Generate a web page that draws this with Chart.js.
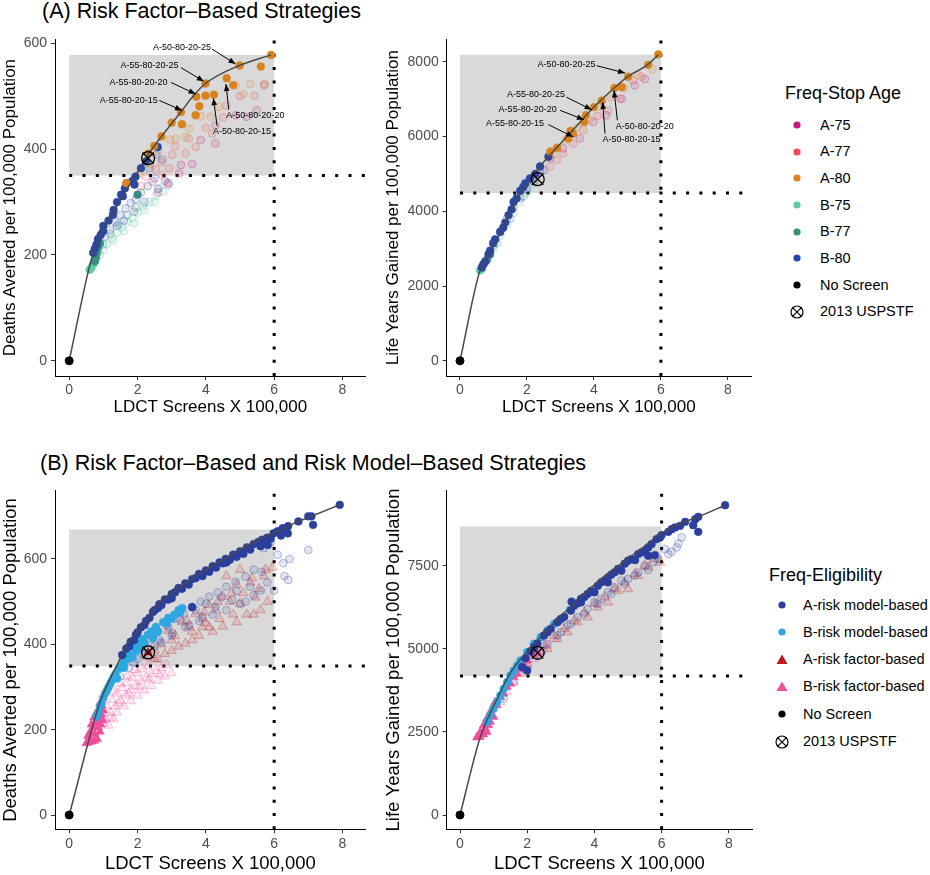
<!DOCTYPE html>
<html lang="en">
<head>
<meta charset="UTF-8">
<title>LDCT screening strategies</title>
<script src="https://cdn.jsdelivr.net/npm/chart.js"></script>
<style>
  body { margin: 0; background: #fff; font-family: "Liberation Sans", Arial, sans-serif; }
  #page { position: relative; width: 930px; height: 875px; overflow: hidden; }
  #page canvas { position: absolute; }
  .head { position: absolute; font-size: 21.5px; line-height: 1; white-space: nowrap; color: #000; }
  .legend .ttl { position: absolute; white-space: nowrap; font-size: 18px; line-height: 1; color: #000; }
  .legend .row { position: absolute; white-space: nowrap; font-size: 14.5px; line-height: 1; color: #000; }
  .legend svg { position: absolute; }
</style>
</head>
<body>
<div id="page">
  <div class="head" style="left:42px;top:1px">(A) Risk Factor–Based Strategies</div>
  <div class="head" style="left:40px;top:453px">(B) Risk Factor–Based and Risk Model–Based Strategies</div>
  <canvas id="aDeaths"></canvas>
  <canvas id="aLY"></canvas>
  <canvas id="bDeaths"></canvas>
  <canvas id="bLY"></canvas>
  <div id="legendA" class="legend"></div>
  <div id="legendB" class="legend"></div>
</div>

<script>
Chart.defaults.font.family = '"Liberation Sans", Arial, sans-serif';

const xTickValues = [0, 2, 4, 6, 8];
const xTitle = 'LDCT Screens X 100,000';

// colours
const colA75 = '#C4177F', colA77 = '#EF4A4F', colA80 = '#D8831F';
const colB75 = '#5DCAA0', colB77 = '#3B8B85', colB80 = '#2A47A6';
const colAModel = '#2A3F9D', colBModel = '#2CA7E0';
const colAFactor = '#C0171E', colBFactor = '#EF4E98';

// ---------- (A) deaths averted ----------
const aDeathsTicks = [0, 200, 400, 600];
const aDeathsFrontier = [[0,0],[0.58,175],[0.7,203],[0.84,226],[0.99,251],[1.28,280],[1.57,311],[1.91,347],[2.1,366],[2.32,390],[2.7,424],[3.27,470],[3.6,498],[3.99,524],[4.98,558],[5.91,578]];
const aDeathsA80 = [[5.91,578],[5.61,556],[4.99,558],[4.61,534],[4.80,521],[3.99,524],[3.99,501],[4.24,503],[3.72,499],[3.81,481],[3.70,464],[3.27,470],[3.30,447],[3.00,450],[2.70,424],[2.49,406],[2.32,392],[1.67,336]];
const aDeathsA80Faded = [[5.72,523],[5.3,523],[5.11,504],[4.87,520],[4.38,480],[4.14,461],[3.85,462],[3.51,439],[3.41,423],[3.12,420],[2.95,418],[2.6,396],[2.35,372],[2.05,353]];
const aDeathsA75Faded = [[5.71,521],[5.49,473],[5.2,461],[4.88,464],[4.28,445],[4.28,411],[3.85,417],[3.6,372],[3.22,354],[2.88,336],[2.44,339],[2.6,318],[2.9,333],[3.27,370]];
const aDeathsA77Faded = [[5.42,501],[5.0,500],[4.6,482],[4.5,460],[4.19,429],[4.0,440],[3.7,404],[3.41,392],[3.5,420],[3.1,405],[3.02,389],[2.93,364],[2.73,351],[2.53,362],[2.7,375],[2.24,348],[2.1,330]];
const aDeathsB80 = [[2.59,404],[2.25,377],[2.1,364],[1.94,348],[1.91,333],[1.85,340],[1.63,326],[1.52,314],[1.57,311],[1.4,300],[1.3,285],[1.28,276],[1.15,265],[1.0,255],[0.99,245],[0.92,238],[0.84,230],[0.8,220],[0.75,212],[0.7,204]];
const aDeathsB80Faded = [[2.55,389],[2.73,380],[2.35,364],[2.5,345],[2.3,330],[2.1,318],[1.95,305],[1.8,298],[1.65,288],[1.5,275],[1.35,262],[1.2,248],[1.05,235],[2.8,340],[2.6,325],[2.2,300],[1.9,282],[1.6,265],[1.4,255]];
const aDeathsB77 = [[2.0,314],[0.9,222],[0.85,215],[0.8,205],[0.78,195],[0.75,188]];
const aDeathsB77Faded = [[1.95,290],[1.7,275],[1.45,258],[1.2,240],[1.0,220],[0.85,205]];
const aDeathsB75 = [[0.6,172],[0.65,176],[0.7,183]];
const aDeathsB75Faded = [[2.93,336],[2.75,320],[2.64,326],[2.55,312],[2.35,300],[2.15,292],[2.0,280],[1.85,270],[1.7,262],[1.55,252],[1.4,242],[1.25,232],[1.1,220],[1.0,210],[0.9,200],[0.8,190],[0.7,182],[2.5,300],[2.2,285],[1.9,260],[1.6,245],[1.3,228]];
const aDeathsUspstf = [[2.31,383]];
const aDeathsNotes = [
  {text: 'A-50-80-20-25', tx: 3.30, ty: 592, x1: 4.18, y1: 589, x2: 4.87, y2: 561},
  {text: 'A-55-80-20-25', tx: 2.35, ty: 558, x1: 3.27, y1: 554, x2: 3.94, y2: 528},
  {text: 'A-55-80-20-20', tx: 2.03, ty: 526, x1: 2.98, y1: 526, x2: 3.70, y2: 504},
  {text: 'A-55-80-20-15', tx: 1.74, ty: 492, x1: 2.64, y1: 492, x2: 3.30, y2: 473},
  {text: 'A-50-80-20-20', tx: 5.45, ty: 464, x1: 4.67, y1: 475, x2: 4.59, y2: 523},
  {text: 'A-50-80-20-15', tx: 5.06, ty: 434, x1: 4.33, y1: 444, x2: 4.22, y2: 496}
];

// ---------- (A) life years gained ----------
const aLYTicks = [0, 2000, 4000, 6000, 8000];
const aLYFrontier = [[0,0],[0.6,2430],[0.9,2900],[1.29,3560],[1.54,4050],[1.89,4600],[2.3,5100],[2.64,5460],[3.3,6100],[4.0,6790],[4.63,7320],[5.02,7610],[5.62,7930],[5.92,8190]];
const aLYA80 = [[5.92,8200],[5.62,7920],[5.02,7600],[4.83,7320],[4.61,7300],[4.23,6960],[4.0,6790],[3.76,6570],[3.71,6390],[3.38,6080],[3.23,5950],[3.3,6150],[2.9,5700],[2.7,5600]];
const aLYA80Faded = [[5.75,7800],[5.3,7650],[4.9,7300],[4.5,7050],[4.15,6800],[3.85,6450],[3.5,6250],[3.15,5900],[2.8,5550]];
const aLYA75Faded = [[5.52,7540],[5.22,7370],[4.83,7010],[4.36,6570],[3.98,6390],[3.58,5950],[3.08,5680],[2.69,5420],[2.39,5060]];
const aLYA77Faded = [[5.42,7600],[5.17,7500],[4.78,7010],[4.43,6700],[4.1,6550],[3.68,6170],[3.38,5810],[3.08,5550],[2.89,5370],[2.69,5200],[2.2,4900]];
const aLYB80 = [[2.64,5460],[2.39,5200],[2.25,5000],[2.09,4880],[1.95,4750],[1.89,4650],[1.8,4550],[1.69,4350],[1.6,4250],[1.54,4050],[1.45,3900],[1.35,3700],[1.29,3560],[1.2,3450],[1.05,3250],[0.99,3150],[0.9,2950],[0.85,2850],[0.75,2650],[0.7,2585],[0.65,2500]];
const aLYB80Faded = [[2.5,5100],[2.2,4800],[2.0,4600],[1.8,4350],[1.6,4100],[1.4,3800],[1.2,3450],[1.0,3100]];
const aLYB77 = [[0.8,2700],[0.9,2850]];
const aLYB77Faded = [[1.9,4400],[1.5,3800],[1.1,3150],[0.8,2700]];
const aLYB75 = [[0.6,2420],[0.65,2460]];
const aLYB75Faded = [[2.2,4750],[2.0,4500],[1.8,4250],[1.6,3950],[1.4,3650],[1.2,3350],[1.0,3000],[0.85,2750],[0.7,2550]];
const aLYUspstf = [[2.32,4860]];
const aLYNotes = [
  {text: 'A-50-80-20-25', tx: 3.18, ty: 7940, x1: 4.08, y1: 7896, x2: 4.93, y2: 7700},
  {text: 'A-55-80-20-25', tx: 2.27, ty: 7126, x1: 3.18, y1: 7054, x2: 3.93, y2: 6717},
  {text: 'A-55-80-20-20', tx: 2.02, ty: 6728, x1: 2.99, y1: 6701, x2: 3.70, y2: 6452},
  {text: 'A-55-80-20-15', tx: 1.64, ty: 6345, x1: 2.64, y1: 6319, x2: 3.38, y2: 5992},
  {text: 'A-50-80-20-20', tx: 5.52, ty: 6258, x1: 4.70, y1: 6436, x2: 4.60, y2: 7232},
  {text: 'A-50-80-20-15', tx: 5.12, ty: 5931, x1: 4.33, y1: 6080, x2: 4.26, y2: 6922}
];

// ---------- (B) deaths averted ----------
const bDeathsTicks = [0, 200, 400, 600];
const bDeathsFrontier = [[0,0],[0.89,262],[1.18,316],[1.43,356],[1.67,395],[2.25,457],[2.64,496],[3.6,555],[4.58,602],[5.54,645],[5.98,660],[6.71,688],[7.09,700],[7.92,727]];
const bDeathsAModel = [[7.92,727],[7.09,700],[7.0,700],[7.14,680],[6.71,688],[6.41,677],[6.4,660],[6.25,672],[6.1,665],[5.98,660],[5.81,633],[5.8,650],[5.65,645],[5.54,640],[5.4,635],[5.2,627],[5.0,618],[4.8,610],[4.58,600],[4.4,592],[4.2,583],[4.0,573],[3.8,565],[3.6,553],[3.6,487],[3.4,543],[3.2,532],[3.0,518],[2.8,505],[2.64,494],[2.45,476],[2.25,455],[2.1,440],[1.95,422],[1.8,406],[1.67,390],[1.55,375],[4.9,605],[4.3,580],[3.7,555],[3.1,522],[2.5,480],[2.0,428],
  [5.3,622],[5.1,612],[4.7,598],[4.5,590],[4.1,570],[3.9,560],[3.5,540],[3.3,530],[2.9,505],[2.7,492],[2.35,462],[2.2,445],[1.9,410],[1.75,395],[5.6,630],[5.9,648],[6.2,655],[3.0,508],[2.6,485],[4.6,592],[5.75,640]];
const bDeathsAModelFaded = [[7.0,621],[6.41,551],[6.27,590],[6.45,600],[6.0,526],[5.64,570],[5.4,575],[5.61,526],[5.16,559],[4.87,547],[4.6,535],[4.35,522],[4.1,512],[3.85,500],[3.6,488],[3.35,472],[3.1,460],[2.85,445],[2.6,430],[2.4,412],[2.2,400],[2.0,385],[1.8,368],[1.6,350],[5.16,500],[4.77,504],[4.28,488],[3.9,465],[3.51,445],[3.02,426],[2.64,410],[2.3,390],[2.0,365],[1.75,345],[1.5,325],[5.9,640],[5.7,625],[6.1,610],
  [5.4,515],[5.0,495],[4.6,480],[4.2,470],[3.8,455],[3.4,440],[3.0,420],[2.7,405],[2.5,395],[2.2,375],[1.9,358],[6.3,560],[5.8,545],[5.3,535],[4.9,525],[4.45,510],[4.0,495],[3.7,480],[3.25,458],[2.9,440],[2.45,418]];
const bDeathsBModel = [[3.31,485],[3.2,480],[3.07,469],[2.9,462],[2.75,452],[2.54,441],[2.4,430],[2.3,422],[2.15,412],[2.0,402],[1.9,392],[1.75,375],[1.6,360],[1.45,343],[1.3,323],[1.2,308],[1.1,292],[1.0,275],[0.9,255],[0.85,240],[0.8,230],[1.4,320],[1.6,345],[1.85,370],[2.1,390],[2.45,415],
  [1.15,300],[1.25,315],[1.35,330],[1.55,350],[1.7,365],[1.95,385],[2.2,402],[2.6,430],[2.85,450],[3.0,460],[3.25,475],[0.95,262],[1.05,285]];
const bDeathsAFactor = [[2.31,381]];
const bDeathsAFactorFaded = [[5.95,580],[5.7,560],[5.55,530],[5.3,545],[5.1,520],[4.9,540],[4.7,500],[4.5,512],[4.3,480],[4.1,492],[3.9,460],[3.7,472],[3.5,440],[3.3,452],[3.1,420],[2.9,432],[2.7,400],[2.5,387],[2.3,370],[5.6,480],[5.2,470],[4.9,452],[4.5,442],[4.2,430],[3.8,420],[3.4,402],[3.0,385],[2.6,366],[4.6,560],[5.0,575],[4.0,450],[3.6,430],
  [5.8,500],[5.4,470],[5.45,510],[5.0,495],[4.8,470],[4.4,460],[4.1,440],[3.9,440],[3.6,410],[3.2,395],[2.8,378],[2.5,365],[4.75,520],[4.35,500],[3.95,475],[3.45,455],[3.0,410],[5.35,555],[5.75,575]];
const bDeathsBFactor = [[0.5,168],[0.58,170],[0.66,172],[0.74,174],[0.82,178],[0.55,185],[0.62,195],[0.7,205],[0.78,215],[0.86,225],[0.94,235],[1.0,245],[0.95,258],[0.9,262],[0.65,212],[0.72,228],[0.8,240],[0.88,250],[0.85,205],[0.92,212],[0.98,222],[0.6,180],[0.75,190],[0.9,195]];
const bDeathsBFactorFaded = [[1.05,225],[1.2,240],[1.35,255],[1.5,268],[1.65,280],[1.8,292],[1.95,303],[2.1,313],[2.25,322],[2.4,330],[2.55,338],[2.7,345],[2.85,352],[1.1,255],[1.25,270],[1.4,285],[1.55,298],[1.7,310],[1.85,322],[2.0,333],[2.15,342],[2.3,350],[1.3,290],[1.5,308],[1.7,325],[1.9,340],[1.15,210],[1.3,225],
  [1.0,215],[1.2,228],[1.4,240],[1.6,255],[1.8,267],[2.0,280],[2.2,292],[2.4,303],[2.6,315],[2.8,325],[3.0,333],[1.45,262],[1.75,285],[2.05,300],[2.35,318],[2.65,330]];
const bDeathsUspstf = [[2.31,381]];

// ---------- (B) life years gained ----------
const bLYTicks = [0, 2500, 5000, 7500];
const bLYFrontier = [[0,0],[0.6,2330],[1.04,3360],[1.49,4260],[2.13,5060],[2.83,5810],[3.82,6770],[4.81,7570],[5.41,8020],[6.0,8470],[6.7,8820],[7.09,8970],[7.89,9320]];
const bLYAModel = [[7.89,9320],[7.09,8970],[7.0,8900],[7.09,8520],[6.94,8720],[6.7,8820],[6.4,8650],[6.2,8520],[6.0,8420],[5.85,8300],[5.8,7820],[5.7,8150],[5.5,7950],[5.3,7850],[5.21,7670],[5.1,7700],[4.9,7560],[4.7,7400],[4.5,7230],[4.3,7060],[4.1,6900],[3.9,6740],[3.7,6560],[3.5,6370],[3.32,6420],[3.3,6150],[3.1,5960],[2.9,5800],[2.7,5600],[2.5,5400],[2.3,5160],[2.1,4930],[1.95,4720],[1.85,4450],[5.6,7800],[4.8,7350],[4.4,7000],[4.0,6700],[3.6,6400],[2.0,4350],
  [5.95,8350],[5.6,8050],[5.4,7900],[5.0,7650],[4.6,7300],[4.2,7000],[3.8,6650],[3.4,6300],[3.0,5900],[2.6,5500],[2.2,5050],[6.3,8600],[6.55,8700],[4.4,7150],[3.6,6500]];
const bLYAModelFaded = [[6.5,8170],[6.3,7920],[6.6,8350],[6.45,8050],[6.1,8000],[5.6,7370],[5.75,7600],[5.5,7500],[5.3,7300],[5.0,7100],[4.8,7050],[4.6,6850],[4.4,6700],[4.2,6500],[4.0,6400],[3.8,6200],[3.5,5950],[3.2,5700],[3.0,5500],[2.6,5150],[2.45,4950],
  [6.2,7850],[5.9,7700],[5.2,7200],[4.9,6950],[4.5,6650],[4.1,6350],[3.7,6050],[3.3,5750],[2.9,5400],[2.3,4800],[1.9,4400],[1.6,4000],[1.3,3500]];
const bLYBModel = [[0.8,2800],[0.9,3000],[1.0,3200],[1.1,3400],[1.2,3600],[1.3,3800],[1.4,4000],[1.5,4200],[1.6,4350],[1.7,4500],[1.8,4650],[2.0,4900],[2.2,5150],[2.4,5350],[2.6,5550],[2.8,5750],[2.95,5850],[3.27,6170]];
const bLYAFactorFaded = [[5.8,7700],[5.5,7500],[5.2,7250],[4.9,7000],[4.6,6800],[4.3,6550],[4.0,6350],[3.7,6100],[3.4,5850],[3.1,5600],[2.8,5400],[2.5,5100],[2.2,4800],[1.9,4500],[5.0,6800],[4.4,6400],[3.8,5950],[3.2,5500],[2.6,5000],
  [5.6,7450],[5.3,7200],[4.7,6750],[4.1,6250],[3.5,5800],[2.9,5300],[2.3,4800],[2.0,4550],[5.95,7600]];
const bLYBFactor = [[0.5,2330],[0.6,2350],[0.7,2420],[0.8,2500],[0.6,2500],[0.7,2700],[0.8,2900],[0.9,3100],[1.0,3300],[1.05,3400],[0.9,2800],[1.0,2950],[0.75,2600],[0.85,2700],[0.95,3000],[1.2,3550],[1.4,3850],[1.6,4150],[1.8,4400],[2.0,4650],[2.2,4850],[2.31,4880],[1.1,3300],[1.3,3650],[1.5,3950],[1.7,4250],[1.9,4500]];
const bLYBFactorFaded = [[1.2,3400],[1.4,3700],[1.6,4000],[1.8,4250],[2.0,4500],[2.2,4700],[2.4,4900],[2.6,5100],[2.8,5300]];
const bLYUspstf = [[2.31,4880]];

const noScreen = [[0, 0]];

// legends
const stopAgeLabels = ['A-75', 'A-77', 'A-80', 'B-75', 'B-77', 'B-80', 'No Screen', '2013 USPSTF'];
const stopAgeColors = [colA75, colA77, colA80, colB75, colB77, colB80, '#000', null];
const eligLabels = ['A-risk model-based', 'B-risk model-based', 'A-risk factor-based', 'B-risk factor-based', 'No Screen', '2013 USPSTF'];
const eligColors = [colAModel, colBModel, colAFactor, colBFactor, '#000', null];
const eligShapes = ['dot', 'dot', 'tri', 'tri', 'dot', 'usp'];

function rgba(hex, a) {
  const n = parseInt(hex.slice(1), 16);
  return 'rgba(' + (n >> 16) + ',' + ((n >> 8) & 255) + ',' + (n & 255) + ',' + a + ')';
}
function pts(arr) { return arr.map(p => ({x: p[0], y: p[1]})); }

function solid(arr, col, r, style) {
  return {data: pts(arr), backgroundColor: col, borderColor: col, borderWidth: 0.5,
    pointRadius: r || 3.9, pointStyle: style || 'circle', order: 2, clip: false};
}
function faded(arr, col, r, style) {
  return {data: pts(arr), backgroundColor: rgba(col, 0.13), borderColor: rgba(col, 0.3), borderWidth: 1,
    pointRadius: r || 3.9, pointStyle: style || 'circle', order: 3, clip: false};
}
function frontier(arr) {
  return {data: pts(arr), showLine: true, borderColor: '#4a4a4a', borderWidth: 1.5, pointRadius: 0,
    cubicInterpolationMode: 'monotone', order: 1, clip: false};
}
function markers(uspstf) {
  return [
    {data: pts(noScreen), backgroundColor: '#000', borderColor: '#000', pointRadius: 4, order: 0},
    {data: pts(uspstf), backgroundColor: 'rgba(0,0,0,0)', borderColor: '#000', borderWidth: 1.3, pointRadius: 6.5, order: 0},
    {data: pts(uspstf), pointStyle: 'crossRot', borderColor: '#000', borderWidth: 1.3, pointRadius: 8, order: 0}
  ];
}

const refPlugin = {
  id: 'refs',
  beforeDatasetsDraw(chart, args, o) {
    const {ctx, chartArea: a, scales: {x, y}} = chart;
    const x0 = x.getPixelForValue(0), x6 = x.getPixelForValue(6);
    const yl = y.getPixelForValue(o.hLine), yt = y.getPixelForValue(o.shadeTop);
    ctx.save();
    ctx.fillStyle = '#D9D9D9';
    ctx.fillRect(x0, yt, x6 - x0, yl - yt);
    ctx.strokeStyle = '#000';
    ctx.lineWidth = 3;
    ctx.setLineDash([3, 10.3]);
    ctx.beginPath(); ctx.moveTo(x0, yl); ctx.lineTo(a.right, yl); ctx.stroke();
    ctx.beginPath(); ctx.moveTo(x6, a.bottom); ctx.lineTo(x6, a.top); ctx.stroke();
    ctx.restore();
  },
  afterDatasetsDraw(chart, args, o) {
    if (!o.notes) return;
    const {ctx, scales: {x, y}} = chart;
    ctx.save();
    ctx.font = '9px "Liberation Sans", Arial, sans-serif';
    ctx.fillStyle = '#000';
    ctx.strokeStyle = '#000';
    ctx.lineWidth = 1;
    ctx.textAlign = 'center';
    ctx.textBaseline = 'middle';
    o.notes.forEach(n => {
      ctx.fillText(n.text, x.getPixelForValue(n.tx), y.getPixelForValue(n.ty));
      const px1 = x.getPixelForValue(n.x1), py1 = y.getPixelForValue(n.y1);
      const px2 = x.getPixelForValue(n.x2), py2 = y.getPixelForValue(n.y2);
      const ang = Math.atan2(py2 - py1, px2 - px1);
      ctx.beginPath(); ctx.moveTo(px1, py1); ctx.lineTo(px2, py2); ctx.stroke();
      ctx.beginPath();
      ctx.moveTo(px2, py2);
      ctx.lineTo(px2 - 7 * Math.cos(ang) + 2.8 * Math.sin(ang), py2 - 7 * Math.sin(ang) - 2.8 * Math.cos(ang));
      ctx.lineTo(px2 - 7 * Math.cos(ang) - 2.8 * Math.sin(ang), py2 - 7 * Math.sin(ang) + 2.8 * Math.cos(ang));
      ctx.closePath(); ctx.fill();
    });
    ctx.restore();
  }
};

function makePanel(id, box, sets) {
  const cv = document.getElementById(id);
  cv.width = box.w; cv.height = box.h;
  cv.style.left = box.left + 'px'; cv.style.top = box.top + 'px';
  cv.style.width = box.w + 'px'; cv.style.height = box.h + 'px';
  const tickFont = {size: 14};
  const titleFont = {size: box.tSize};
  const grid = {drawOnChartArea: false, drawTicks: true, tickLength: 4, color: '#333333'};
  return new Chart(cv, {
    type: 'scatter',
    data: {datasets: sets},
    options: {
      responsive: false, animation: false, devicePixelRatio: 1, events: [],
      layout: {padding: {top: box.padT, right: box.padR, left: 0, bottom: 0}},
      plugins: {
        legend: {display: false}, tooltip: {enabled: false},
        refs: {hLine: box.hLine, shadeTop: box.shadeTop, notes: box.notes}
      },
      scales: {
        x: {
          type: 'linear', min: box.xMin, max: box.xMax,
          afterBuildTicks: s => { s.ticks = xTickValues.map(v => ({value: v})); },
          afterFit: s => { s.height = box.xH; s.paddingLeft = 0; s.paddingRight = 0; },
          ticks: {color: '#4D4D4D', font: tickFont, padding: 2, maxRotation: 0, autoSkip: false, callback: v => String(v)},
          grid: grid,
          border: {display: true, color: '#000', width: 1},
          title: {display: true, text: xTitle, color: '#000', font: titleFont, padding: 0}
        },
        y: {
          type: 'linear', min: box.yMin, max: box.yMax,
          afterBuildTicks: s => { s.ticks = box.yTicks.map(v => ({value: v})); },
          afterFit: s => { s.width = box.yW; s.paddingTop = 0; s.paddingBottom = 0; },
          ticks: {color: '#4D4D4D', font: tickFont, padding: 4, autoSkip: false, callback: v => String(v)},
          grid: grid,
          border: {display: true, color: '#000', width: 1},
          title: {display: true, text: box.yTitle, color: '#000', font: titleFont, padding: 0}
        }
      }
    },
    plugins: [refPlugin]
  });
}

// (A) deaths averted
makePanel('aDeaths', {
  left: 0, top: 30, w: 375, h: 388, yW: 55, xH: 42, padT: 6.7, padR: 7,
  xMin: -0.416, xMax: 8.68, yMin: -28.7, yMax: 607.5, yTicks: aDeathsTicks,
  yTitle: 'Deaths Averted per 100,000 Population', tSize: 17,
  hLine: 350, shadeTop: 578, notes: aDeathsNotes
}, [
  ...markers(aDeathsUspstf), frontier(aDeathsFrontier),
  solid(aDeathsA80, colA80), solid(aDeathsB80, colB80), solid(aDeathsB77, colB77), solid(aDeathsB75, colB75),
  faded(aDeathsA80Faded, colA80), faded(aDeathsA75Faded, colA75), faded(aDeathsA77Faded, colA77),
  faded(aDeathsB80Faded, colB80), faded(aDeathsB77Faded, colB77), faded(aDeathsB75Faded, colB75)
]);

// (A) life years gained
makePanel('aLY', {
  left: 383, top: 30, w: 380, h: 388, yW: 63.7, xH: 42, padT: 6.7, padR: 12,
  xMin: -0.397, xMax: 8.69, yMin: -406, yMax: 8602, yTicks: aLYTicks,
  yTitle: 'Life Years Gained per 100,000 Population', tSize: 17,
  hLine: 4490, shadeTop: 8190, notes: aLYNotes
}, [
  ...markers(aLYUspstf), frontier(aLYFrontier),
  solid(aLYA80, colA80), solid(aLYB80, colB80), solid(aLYB77, colB77), solid(aLYB75, colB75),
  faded(aLYA80Faded, colA80), faded(aLYA75Faded, colA75), faded(aLYA77Faded, colA77),
  faded(aLYB80Faded, colB80), faded(aLYB77Faded, colB77), faded(aLYB75Faded, colB75)
]);

// (B) deaths averted
makePanel('bDeaths', {
  left: 0, top: 480, w: 375, h: 395, yW: 55, xH: 45.7, padT: 10.7, padR: 7,
  xMin: -0.416, xMax: 8.68, yMin: -33.5, yMax: 760, yTicks: bDeathsTicks,
  yTitle: 'Deaths Averted per 100,000 Population', tSize: 18.5,
  hLine: 349, shadeTop: 669
}, [
  ...markers(bDeathsUspstf), frontier(bDeathsFrontier),
  solid(bDeathsAFactor, colAFactor, 5, 'triangle'),
  solid(bDeathsAModel, colAModel), solid(bDeathsBModel, colBModel),
  solid(bDeathsBFactor, colBFactor, 5, 'triangle'),
  faded(bDeathsAModelFaded, colAModel), faded(bDeathsAFactorFaded, colAFactor, 5.5, 'triangle'),
  faded(bDeathsBFactorFaded, colBFactor, 5.5, 'triangle')
]);

// (B) life years gained
makePanel('bLY', {
  left: 383, top: 480, w: 380, h: 395, yW: 63.7, xH: 45.7, padT: 10.7, padR: 11,
  xMin: -0.396, xMax: 8.69, yMin: -430, yMax: 9756, yTicks: bLYTicks,
  yTitle: 'Life Years Gained per 100,000 Population', tSize: 18.5,
  hLine: 4180, shadeTop: 8680
}, [
  ...markers(bLYUspstf), frontier(bLYFrontier),
  solid(bLYAModel, colAModel), solid(bLYBModel, colBModel),
  solid(bLYBFactor, colBFactor, 5, 'triangle'),
  faded(bLYAModelFaded, colAModel), faded(bLYAFactorFaded, colAFactor, 5.5, 'triangle'),
  faded(bLYBFactorFaded, colBFactor, 5.5, 'triangle')
]);

// legends (HTML)
function keySvg(shape, col) {
  if (shape === 'usp') {
    return '<svg width="16" height="16" viewBox="0 0 16 16"><circle cx="8" cy="8" r="6" fill="none" stroke="#000" stroke-width="1.2"/>' +
      '<line x1="3.3" y1="3.3" x2="12.7" y2="12.7" stroke="#000" stroke-width="1.2"/><line x1="12.7" y1="3.3" x2="3.3" y2="12.7" stroke="#000" stroke-width="1.2"/></svg>';
  }
  if (shape === 'tri') {
    return '<svg width="16" height="16" viewBox="0 0 16 16"><polygon points="8,2.5 13.5,12 2.5,12" fill="' + col + '"/></svg>';
  }
  return '<svg width="16" height="16" viewBox="0 0 16 16"><circle cx="8" cy="8" r="3.6" fill="' + col + '"/></svg>';
}
function buildLegend(id, title, titleX, titleY, labels, colors, shapes, keyX, textX, y0, step) {
  const el = document.getElementById(id);
  let html = '<div class="ttl" style="left:' + titleX + 'px;top:' + (titleY - 9) + 'px">' + title + '</div>';
  labels.forEach((lab, i) => {
    const cy = y0 + i * step;
    const svg = keySvg(shapes[i], colors[i]).replace('<svg ', '<svg style="left:' + (keyX - 8) + 'px;top:' + (cy - 8) + 'px" ');
    html += svg + '<div class="row" style="left:' + textX + 'px;top:' + (cy - 7.5) + 'px">' + lab + '</div>';
  });
  el.innerHTML = html;
}
buildLegend('legendA', 'Freq-Stop Age', 785, 93, stopAgeLabels, stopAgeColors,
  ['dot', 'dot', 'dot', 'dot', 'dot', 'dot', 'dot', 'usp'], 797, 820, 125, 26.67);
buildLegend('legendB', 'Freq-Eligibility', 769, 575, eligLabels, eligColors, eligShapes, 782, 803, 605, 27.3);
</script>
</body>
</html>
